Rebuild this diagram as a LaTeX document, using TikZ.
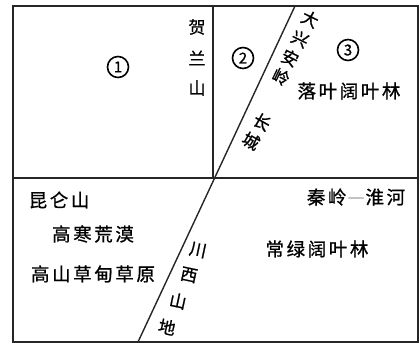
\documentclass[tikz,border=0pt]{standalone}
\usepackage{fontspec}
\setmainfont{Noto Sans CJK SC}[FakeBold=0.9]
\newfontfamily\cjkls{Noto Sans CJK SC}[LetterSpace=14,FakeBold=0.9]
\begin{document}
\begin{tikzpicture}[x=1pt,y=-1pt,
  frame/.style={line width=1.7pt,black!85},
  divline/.style={line width=1.4pt,black!85},
  lbl/.style={inner sep=0pt,font=\cjkls\fontsize{18.5}{18.5}\selectfont},
  num/.style={circle,draw,line width=1.6pt,inner sep=0pt,minimum size=21pt,font=\fontsize{15}{15}\selectfont},
  vchar/.style={inner sep=0pt,font=\fontsize{17}{17}\selectfont}]
\useasboundingbox (0,0) rectangle (419,344);
\coordinate (tl) at (13,6);
\coordinate (br) at (418,342);
\coordinate (ml) at (13,178);
\coordinate (mr) at (418,178);
\coordinate (vt) at (213,6);
\coordinate (vb) at (213,178);
\coordinate (dt) at (295,6);
\coordinate (db) at (138,342);
\draw[frame] (tl) rectangle (br);
\draw[divline] (ml) -- (mr);
\draw[divline] (vt) -- (vb);
\draw[divline] (dt) -- (db);
% numbers
\node[num] (n1) at (118,67) {1};
\node[num] (n2) at (243,58) {2};
\node[num] (n3) at (348,50) {3};
% 贺兰山
\node[vchar] (he) at (197,27) {贺};
\node[vchar] (lan) at (197,58) {兰};
\node[vchar] (shan) at (197,88) {山};
% 大兴安岭
\node[vchar,rotate=-26] (da) at (310,19) {大};
\node[vchar,rotate=-26] (xing) at (300,39) {兴};
\node[vchar,rotate=-26] (an) at (290,58) {安};
\node[vchar,rotate=-26] (ling) at (281,77) {岭};
% 长城
\node[vchar,rotate=-30] (chang) at (262,122) {长};
\node[vchar,rotate=-30] (cheng) at (251,141) {城};
% horizontal labels
\node[lbl] (lyk) at (349,91) {落叶阔叶林};
\node[lbl] (kls) at (59,200) {昆仑山};
\node[lbl] (ghhm) at (93,234) {高寒荒漠};
\node[lbl] (gscd) at (93,274) {高山草甸草原};
\node[lbl] (qlhh) at (356,197) {秦岭\makebox[19pt][c]{\raisebox{4.8pt}{\resizebox{17pt}{1.3pt}{—}}}淮河};
\node[lbl] (clk) at (317,249) {常绿阔叶林};
% 川西山地
\node[vchar,rotate=-12] (cx1) at (198,250) {川};
\node[vchar,rotate=-12] (cx2) at (189,275) {西};
\node[vchar,rotate=-12] (cx3) at (178,301) {山};
\node[vchar,rotate=-12] (cx4) at (167,327) {地};
\end{tikzpicture}
\end{document}
